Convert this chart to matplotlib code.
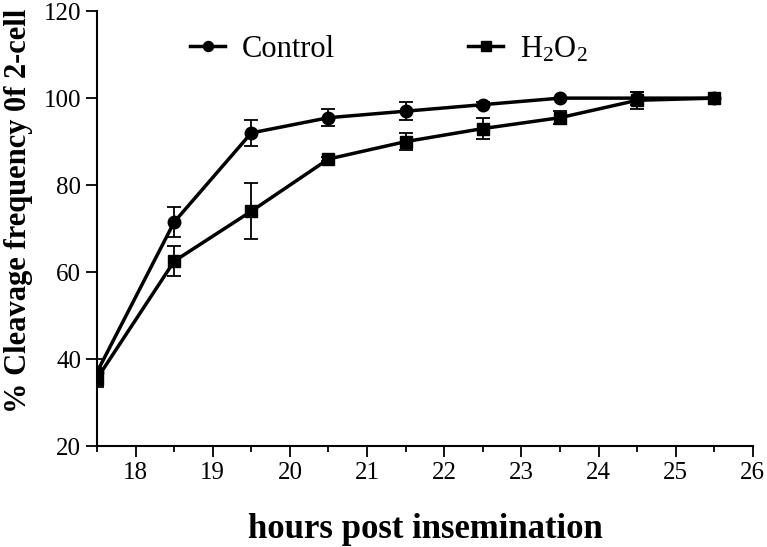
import matplotlib
matplotlib.use("Agg")
import matplotlib.pyplot as plt
from matplotlib.ticker import MultipleLocator

plt.rcParams["font.family"] = ["Liberation Serif", "DejaVu Serif"]
plt.rcParams["mathtext.fontset"] = "custom"
plt.rcParams["mathtext.rm"] = "Liberation Serif"
plt.rcParams["mathtext.it"] = "Liberation Serif:italic"
plt.rcParams["mathtext.bf"] = "Liberation Serif:bold"

hours = [17.5, 18.5, 19.5, 20.5, 21.5, 22.5, 23.5, 24.5, 25.5]
control = [37.0, 71.5, 92.0, 95.5, 97.0, 98.5, 100.0, 100.0, 100.0]
control_err = [3.0, 3.5, 3.0, 2.0, 2.0, 0.5, 0.0, 1.5, 0.0]
h2o2 = [35.5, 62.5, 74.0, 86.0, 90.0, 93.0, 95.5, 99.5, 100.0]
h2o2_err = [2.0, 3.5, 6.5, 0.5, 2.0, 2.5, 1.5, 2.0, 0.0]

fig = plt.figure(figsize=(7.67, 5.47), dpi=100)
ax = fig.add_axes([0.1265, 0.1846, 0.855, 0.795])

c1 = ax.errorbar(hours, control, yerr=control_err, color="black", lw=2.5,
                 marker="o", ms=9, capsize=5, elinewidth=1.3, capthick=1.3)
c2 = ax.errorbar(hours, h2o2, yerr=h2o2_err, color="black", lw=2.5,
                 marker="s", ms=9, capsize=5, elinewidth=1.3, capthick=1.3)

ax.set_xlim(17.5, 26)
ax.set_ylim(20, 120)
ax.xaxis.set_major_locator(MultipleLocator(1))
ax.xaxis.set_minor_locator(MultipleLocator(0.5))
ax.yaxis.set_major_locator(MultipleLocator(20))
ax.tick_params(axis="both", which="major", labelsize=18, width=1.3, length=8)
ax.tick_params(axis="x", which="minor", width=1.3, length=4)

for side in ("top", "right"):
    ax.spines[side].set_visible(False)
for side in ("left", "bottom"):
    ax.spines[side].set_linewidth(1.5)

ax.set_xlabel("hours post insemination", fontsize=25, fontweight="bold", labelpad=21)
ax.set_ylabel("% Cleavage frequency 0f 2-cell", fontsize=22, fontweight="bold")
ax.yaxis.set_label_coords(-0.097, 0.54)

ax.legend([c1[0], c2[0]], ["Control", r"H$_\mathregular{2}$O$_\mathregular{2}$"],
          loc="center left", bbox_to_anchor=(0.142, 0.912), ncol=2, frameon=False,
          fontsize=22, columnspacing=4.35, handlelength=1.15, handletextpad=0.55,
          borderpad=0, borderaxespad=0, markerscale=0.8)

fig.savefig("out.png", dpi=100)
